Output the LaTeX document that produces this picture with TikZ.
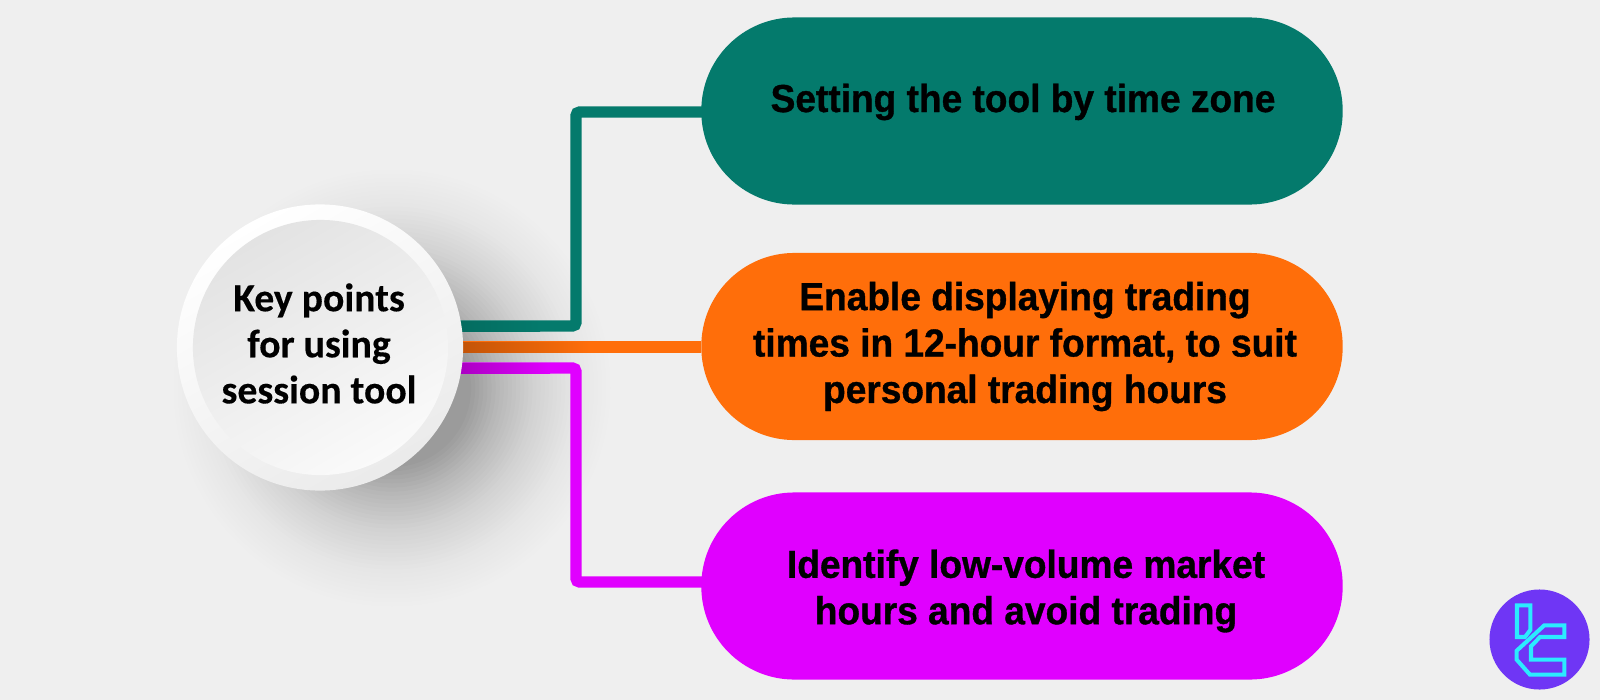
\documentclass[tikz,border=0pt]{standalone}
\usepackage{fontspec}
\setmainfont[BoldFeatures={FakeBold=0.9,FakeStretch=0.95}]{Liberation Sans}
\newfontfamily\hubfont[BoldFeatures={FakeBold=0.3}]{Carlito}
\usetikzlibrary{backgrounds}
\definecolor{bgpaper}{HTML}{EFEFEF}
\definecolor{tealpill}{HTML}{047A6C}
\definecolor{orangepill}{HTML}{FF6E0A}
\definecolor{magentapill}{HTML}{E000FF}
\definecolor{logopurple}{HTML}{6F36F5}
\definecolor{logocyan}{HTML}{2BEBFF}
\tikzset{
  pill/.style={rectangle,rounded corners=0.93cm,minimum width=6.41cm,minimum height=1.87cm,inner sep=0pt},
  pilltext/.style={align=center,inner sep=0pt,font=\fontsize{11.1}{13.2}\selectfont\bfseries},
  wire/.style={line width=3.2pt,rounded corners=1pt},
  logoline/.style={logocyan,line width=1.15pt}
}
\begin{document}
\begin{tikzpicture}[x=0.01cm,y=-0.01cm]
      % pills
      \node[pill,fill=tealpill] (zone) at (1022,111) {};
      \node[pill,fill=orangepill] (format) at (1022,346.5) {};
      \node[pill,fill=magentapill] (volume) at (1022,586) {};
      \node[pilltext] (zonetext) at (1023,102) {Setting the tool by time zone};
      \node[pilltext] (formattext) at (1025,346.5) {Enable displaying trading\\times in 12-hour format, to suit\\personal trading hours};
      \node[pilltext] (volumetext) at (1026,591) {Identify low-volume market\\hours and avoid trading};
      % hub
      \node[circle,minimum size=2.86cm,inner sep=0pt,top color=white,bottom color=black!8,shading angle=30] (hub) at (320,347.5) {};
      \node[circle,minimum size=2.55cm,inner sep=0pt,top color=black!11,bottom color=black!2,shading angle=30] (hubdisc) at (320.5,347.5) {};
      \node[align=center,inner sep=0pt,font=\hubfont\fontsize{11.3}{13.1}\selectfont\bfseries] (hubtext) at (319,343.5) {Key points\\for using\\session tool};
      \coordinate (hubteal) at (320,326);
      \coordinate (bendteal) at (576,326);
      \coordinate (portzone) at (706,112);
      \coordinate (huborange) at (320,347);
      \coordinate (hubmagenta) at (320,368);
      \coordinate (bendmagenta) at (576,368);
      \coordinate (portvolume) at (706,582);
      \begin{pgfonlayer}{background}
        \fill[bgpaper] (0,0) rectangle (1600,700);
        \foreach \i [evaluate=\i as \o using 0.017*(1-\i/40)] in {1,...,40}
          \fill[black,opacity=\o] (392,388) circle ({75+4.1*\i});
        \draw[wire,tealpill] (hubteal) -- (bendteal) |- (portzone);
        \draw[wire,orangepill] (huborange) -- (huborange -| format.west);
        \draw[wire,magentapill] (hubmagenta) -- (bendmagenta) |- (portvolume);
        \shade[left color=black!12!tealpill,right color=tealpill] (455,321) rectangle (540,331);
        \shade[left color=black!25!orangepill,right color=orangepill] (455,342) rectangle (590,352);
        \shade[left color=black!25!magentapill,right color=magentapill] (455,363) rectangle (550,373);
      \end{pgfonlayer}
      % logo
      \node[circle,fill=logopurple,minimum size=1cm,inner sep=0pt] (logo) at (1539.5,639.5) {};
      \draw[logoline] (1517,605.3) -- (1530.3,605.3) -- (1530.3,630) -- (1525,637) -- (1517,637) -- cycle;
      \draw[logoline] (1564.3,637) -- (1564.3,625.3) -- (1544.3,625.3) -- (1516.7,650.7) -- (1516.7,659.7) -- (1530,674.7)
        -- (1564.3,674.7) -- (1564.3,659.7) -- (1531,659.7) -- (1531,646.3) -- (1540,637) -- cycle;
      \useasboundingbox (0,0) rectangle (1600,700);
\end{tikzpicture}
\end{document}
